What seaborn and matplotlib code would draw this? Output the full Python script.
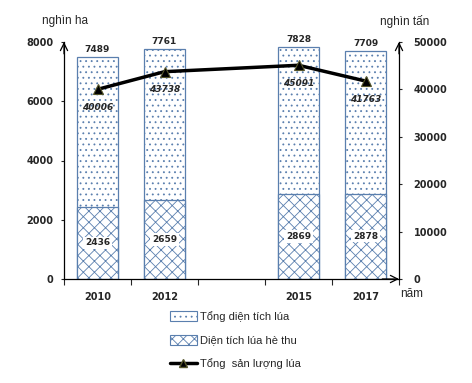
import pandas as pd
import matplotlib.pyplot as plt
import seaborn as sns
from matplotlib.patches import Patch
from matplotlib.lines import Line2D

years = ['2010', '2012', '2015', '2017']
tong_dien_tich = [7489, 7761, 7828, 7709]      # nghìn ha
dien_tich_he_thu = [2436, 2659, 2869, 2878]    # nghìn ha
san_luong = [40006, 43738, 45091, 41763]       # nghìn tấn

# slot layout: 2010, 2012, (empty), 2015, 2017
order = ['2010', '2012', 'gap', '2015', '2017']
pos = [0, 1, 3, 4]

sns.set_style('white')
plt.rcParams['font.family'] = ['DejaVu Sans']
plt.rcParams['hatch.linewidth'] = 0.6

EDGE = '#5a7fae'
NUM = dict(family='DejaVu Sans', fontweight='bold')
TXT = dict(family='Liberation Sans')

df = pd.DataFrame({'year': years, 'total': tong_dien_tich, 'summer': dien_tich_he_thu})

fig = plt.figure(figsize=(4.72, 3.83), dpi=100)
ax = fig.add_axes([64 / 472, 1 - 279 / 383, 335 / 472, 237 / 383])

sns.barplot(data=df, x='year', y='total', order=order, ax=ax, color='white',
            saturation=1, width=0.62, edgecolor=EDGE, linewidth=0.9, hatch='...')
sns.barplot(data=df, x='year', y='summer', order=order, ax=ax, color='white',
            saturation=1, width=0.62, edgecolor=EDGE, linewidth=0.9, hatch='xxx')

ax.set_xlim(-0.5, 4.5)
ax.set_ylim(0, 8000)
ax.set_yticks([0, 2000, 4000, 6000, 8000])
ax.set_xticks(pos, labels=years)
ax.set_xticks([-0.5, 0.5, 1.5, 2.5, 3.5, 4.5], minor=True)
ax.tick_params(axis='x', which='major', length=0, pad=9, labelsize=7)
ax.tick_params(axis='x', which='minor', length=4, width=0.8, direction='out', bottom=True)
ax.tick_params(axis='y', length=2.5, width=0.8, direction='out', left=True, labelsize=7, pad=5)
for lab in ax.get_xticklabels() + ax.get_yticklabels():
    lab.set_fontweight('bold')
ax.set_xlabel('')
ax.set_ylabel('')
for s in ['top', 'right']:
    ax.spines[s].set_visible(False)
for s in ['left', 'bottom']:
    ax.spines[s].set_color('black')
    ax.spines[s].set_linewidth(0.9)

for p, t, s in zip(pos, tong_dien_tich, dien_tich_he_thu):
    ax.text(p, t + 250, str(t), ha='center', va='center', fontsize=6.5, **NUM)
    ax.text(p, s / 2, str(s), ha='center', va='center', fontsize=6.5,
            bbox=dict(facecolor='white', edgecolor='none', pad=1.2), **NUM)

ax2 = ax.twinx()
sns.lineplot(x=pos, y=san_luong, ax=ax2, color='black', linewidth=2.5, marker='^',
             markersize=7, markeredgecolor='#55552a', markeredgewidth=0.8)
ax2.set_ylim(0, 50000)
ax2.set_yticks([0, 10000, 20000, 30000, 40000, 50000])
ax2.tick_params(axis='y', length=2.5, width=0.8, direction='out', right=True, labelsize=7, pad=8)
for lab in ax2.get_yticklabels():
    lab.set_fontweight('bold')
for s in ['top', 'left', 'bottom']:
    ax2.spines[s].set_visible(False)
ax2.spines['right'].set_color('black')
ax2.spines['right'].set_linewidth(0.9)

for p, v in zip(pos, san_luong):
    ax2.text(p, v - 3800, str(v), ha='center', va='center', fontsize=6.5,
             fontstyle='italic', **NUM)

# axis arrows
arr = dict(arrowstyle='->', lw=0.9, color='black', shrinkA=0, shrinkB=0, mutation_scale=13)
ax.annotate('', xy=(0, 1.0), xytext=(0, 0.95), xycoords='axes fraction', arrowprops=arr)
ax2.annotate('', xy=(1, 1.0), xytext=(1, 0.95), xycoords='axes fraction', arrowprops=arr)
ax.annotate('', xy=(1.0, 0), xytext=(0.95, 0), xycoords='axes fraction', arrowprops=arr)

fig.text(65 / 472, 1 - 21 / 383, 'nghìn ha', ha='center', va='center', fontsize=8.5, **TXT)
fig.text(405 / 472, 1 - 21 / 383, 'nghìn tấn', ha='center', va='center', fontsize=8.5, **TXT)
fig.text(400 / 472, 1 - 294 / 383, 'năm', ha='left', va='center', fontsize=8.5, **TXT)

handles = [
    Patch(facecolor='white', edgecolor=EDGE, hatch='...', linewidth=0.8),
    Patch(facecolor='white', edgecolor=EDGE, hatch='xxx', linewidth=0.8),
    Line2D([0], [0], color='black', linewidth=2.5, marker='^', markersize=6,
           markeredgecolor='#55552a'),
]
labels = ['Tổng diện tích lúa', 'Diện tích lúa hè thu', 'Tổng  sản lượng lúa']
fig.legend(handles, labels, loc='upper left', bbox_to_anchor=(170 / 472, 1 - 311 / 383),
           frameon=False, prop={'family': 'Liberation Sans', 'size': 8},
           handlelength=2.4, handleheight=1.0, handletextpad=0.3, labelspacing=1.15,
           borderpad=0, borderaxespad=0)

fig.savefig('out.png', dpi=100)
